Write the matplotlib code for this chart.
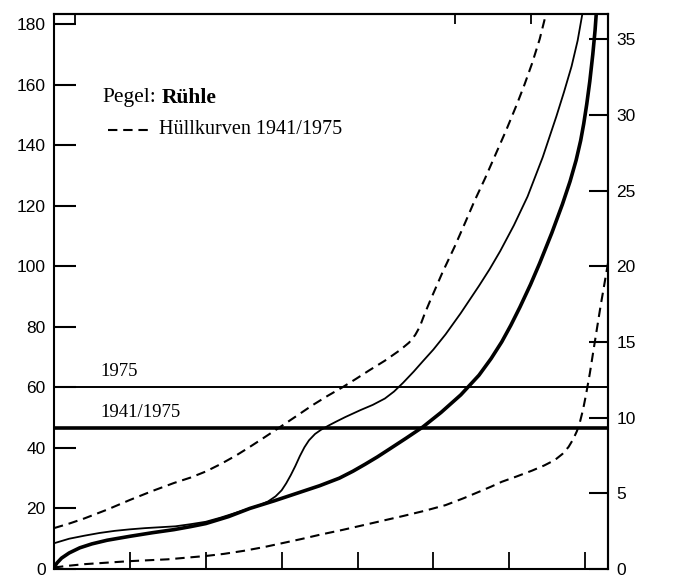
import matplotlib
matplotlib.use("Agg")
import matplotlib.pyplot as plt
from matplotlib.lines import Line2D

# Duration curves at gauge Rühle: days of the year vs. discharge
days_mean = [0, 2, 5, 10, 17, 25, 35, 50, 65, 79, 90, 100, 115, 129, 145, 160, 175,
             188, 197, 205, 213, 221, 232, 243, 255, 268, 280, 288, 295, 301, 307,
             314, 320, 328, 335, 340, 344, 347, 349, 351, 353, 355, 356.5, 357.5]
q_mean = [0.5, 2, 3.6, 5.3, 7, 8.3, 9.5, 10.8, 12, 13, 14, 15, 17.3, 20, 22.5, 25,
          27.5, 30, 32.3, 34.6, 37, 39.6, 43.2, 46.9, 51.7, 57.5, 64, 69.5, 75, 80.5,
          86.5, 94, 101, 111, 120.5, 128, 135, 141.5, 147, 153.5, 161, 170, 178, 185]

days_1975 = [0, 10, 20, 30, 40, 50, 60, 70, 80, 90, 100, 110, 120, 128, 135, 141,
             146, 150, 153, 156, 159, 162, 165, 168, 172, 176, 181, 186, 192, 202,
             210, 218, 224, 230, 237, 243, 250, 258, 268, 280, 287, 294, 303, 312,
             322, 331, 336, 341, 345, 348]
q_1975 = [8.5, 10, 11, 11.9, 12.6, 13.1, 13.5, 13.8, 14.1, 14.8, 15.6, 17, 18.6,
          19.9, 21, 22.3, 24, 26, 28.3, 31, 34, 37.3, 40.2, 42.5, 44.6, 46, 47.4,
          48.7, 50.2, 52.5, 54.2, 56.3, 58.6, 61.5, 65.2, 68.6, 72.5, 77.5, 84.5,
          93.5, 99, 105, 113.5, 123, 136, 149.5, 157.5, 166, 174.5, 183]

days_env_hi = [0, 10, 20, 35, 50, 65, 79, 90, 100, 110, 120, 128, 136, 149, 160, 170,
               180, 190, 199, 208, 218, 228, 234, 238, 241, 244, 248, 256, 264, 271,
               277, 284, 291, 298, 305, 310, 315, 320, 324]
q_env_hi = [13.5, 15, 16.7, 19.6, 22.8, 25.8, 28.4, 30.2, 32.2, 34.7, 37.5, 40, 42.6,
            46.9, 50.6, 54, 57.1, 60, 62.8, 65.7, 68.8, 72.3, 74.8, 77.3, 80, 84, 88.8,
            98, 106.5, 114.5, 121.5, 129, 137, 145, 153.5, 160, 167, 175, 183]

days_env_lo = [0, 10, 20, 35, 50, 75, 100, 112, 125, 138, 151, 163, 175, 190, 204,
               217, 230, 244, 258, 270, 280, 288, 295, 305, 315, 323, 330, 335, 339,
               342, 344.5, 346.5, 348.5, 350.5, 353, 356, 360, 365]
q_env_lo = [0.5, 1.1, 1.6, 2.1, 2.6, 3.2, 4.3, 5, 6, 7.2, 8.6, 9.9, 11.3, 12.9, 14.5,
            16, 17.5, 19.2, 21.1, 23.4, 25.5, 27.2, 28.8, 30.6, 32.5, 34.2, 36, 38,
            40.3, 42.8, 45.5, 48.5, 52.5, 57.5, 64.5, 74, 86.5, 101]

level_1975 = 60
level_1941_1975 = 46.5

left_ticks = list(range(0, 181, 20))
right_ticks = list(range(0, 36, 5))
bottom_ticks = list(range(50, 351, 50))
top_ticks = [14, 264, 314]

serif = "Liberation Serif"
sans = "Liberation Sans"

fig = plt.figure(figsize=(6.73, 5.83), dpi=100)
ax = fig.add_axes([0.0802, 0.024, 0.8232, 0.952])

dash = (0, (4.5, 2.8))
ax.plot(days_env_hi, q_env_hi, color="black", lw=1.5, ls=dash)
ax.plot(days_env_lo, q_env_lo, color="black", lw=1.5, ls=dash)
ax.plot(days_1975, q_1975, color="black", lw=1.3, solid_joinstyle="round")
ax.plot(days_mean, q_mean, color="black", lw=2.6, solid_joinstyle="round")

ax.axhline(level_1975, color="black", lw=1.4)
ax.axhline(level_1941_1975, color="black", lw=2.6)

ax.set_xlim(0, 365)
ax.set_ylim(0, 183.3)

for s in ax.spines.values():
    s.set_linewidth(1.5)

ax.set_xticks(bottom_ticks)
ax.set_xticklabels([])
ax.tick_params(axis="x", direction="in", length=12, width=1.3, bottom=True, top=False)
ax.set_yticks(left_ticks)
ax.tick_params(axis="y", direction="in", length=16, width=1.5, right=False, pad=6)
for lab in ax.get_yticklabels():
    lab.set_fontfamily(sans)
    lab.set_fontsize(12.5)

secx = ax.secondary_xaxis("top")
secx.set_xticks(top_ticks)
secx.tick_params(direction="in", length=7, width=1.3, labeltop=False)
secx.spines["top"].set_linewidth(1.5)

secy = ax.secondary_yaxis("right", functions=(lambda v: v / 5, lambda v: v * 5))
secy.set_yticks(right_ticks)
secy.tick_params(direction="in", length=14, width=1.5, pad=6)
secy.spines["right"].set_linewidth(1.5)
for lab in secy.get_yticklabels():
    lab.set_fontfamily(sans)
    lab.set_fontsize(12.5)

# Title and legend inside the plot area
t_pegel = ax.text(0.088, 0.849, "Pegel:", transform=ax.transAxes, fontsize=15.5,
                  family=serif, va="center", ha="left")
ax.annotate("Rühle", xy=(1, 0.5), xycoords=t_pegel, xytext=(4, 0),
            textcoords="offset points", fontsize=15.5, family=serif,
            weight="bold", va="center", ha="left")
ax.add_line(Line2D([0.097, 0.175], [0.791, 0.791], transform=ax.transAxes,
                   color="black", lw=1.5, ls=dash))
ax.text(0.19, 0.791, "Hüllkurven 1941/1975", transform=ax.transAxes, fontsize=14.5,
        family=serif, va="center", ha="left")

ax.text(0.083, level_1975 + 2.5, "1975", transform=ax.get_yaxis_transform(),
        fontsize=13.5, family=serif, va="bottom", ha="left")
ax.text(0.083, level_1941_1975 + 2.5, "1941/1975", transform=ax.get_yaxis_transform(),
        fontsize=13.5, family=serif, va="bottom", ha="left")

fig.savefig("out.png", dpi=100)
